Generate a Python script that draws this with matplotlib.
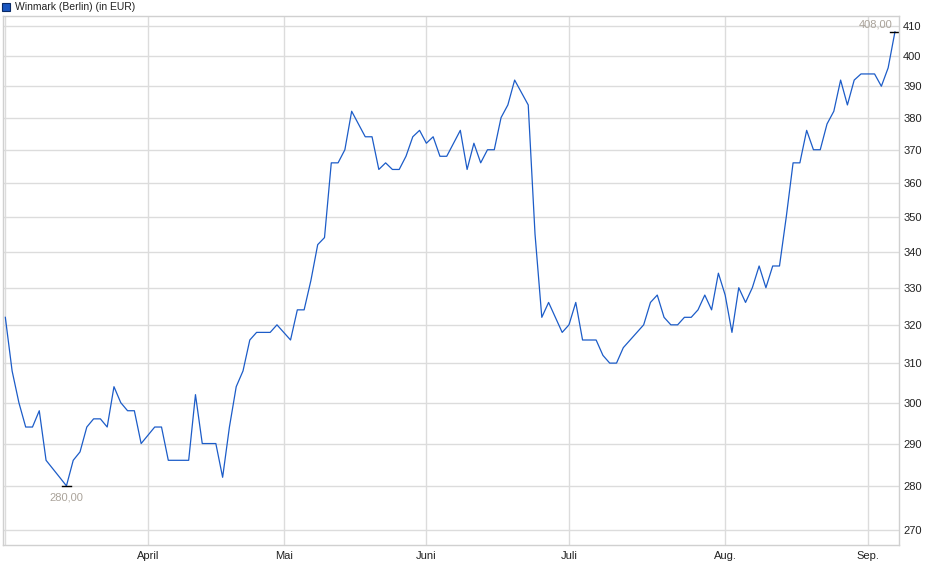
import matplotlib.pyplot as plt
from matplotlib.ticker import FixedLocator, NullLocator

plt.rcParams['font.family'] = ['Liberation Sans', 'DejaVu Sans']

# daily closing prices (trading days, early March to early September)
prices = [322, 308, 300, 294, 294, 298, 286, 284, 282, 280,
          286, 288, 294, 296, 296, 294, 304, 300, 298, 298,
          290, 292, 294, 294, 286, 286, 286, 286, 302, 290,
          290, 290, 282, 294, 304, 308, 316, 318, 318, 318,
          320, 318, 316, 324, 324, 332, 342, 344, 366, 366,
          370, 382, 378, 374, 374, 364, 366, 364, 364, 368,
          374, 376, 372, 374, 368, 368, 372, 376, 364, 372,
          366, 370, 370, 380, 384, 392, 388, 384, 345, 322,
          326, 322, 318, 320, 326, 316, 316, 316, 312, 310,
          310, 314, 316, 318, 320, 326, 328, 322, 320, 320,
          322, 322, 324, 328, 324, 334, 328, 318, 330, 326,
          330, 336, 330, 336, 336, 350, 366, 366, 376, 370,
          370, 378, 382, 392, 384, 392, 394, 394, 394, 390,
          396, 408]

# index of the first trading day of each month
month_pos = [0, 21, 41, 62, 83, 106, 127]
month_labels = ['', 'April', 'Mai', 'Juni', 'Juli', 'Aug.', 'Sep.']
y_ticks = [270, 280, 290, 300, 310, 320, 330, 340, 350, 360, 370, 380, 390, 400, 410]

days = list(range(len(prices)))

fig = plt.figure(figsize=(9.4, 5.79), dpi=100)
ax = fig.add_axes([0.0032, 0.0587, 0.9532, 0.9137])

ax.plot(days, prices, color='#1c5cc8', linewidth=0.9)

ax.set_yscale('log')
ax.set_ylim(266.6, 413.4)
ax.set_xlim(-0.34, 131.6)

ax.yaxis.set_major_locator(FixedLocator(y_ticks))
ax.yaxis.set_minor_locator(NullLocator())
ax.set_yticklabels([str(v) for v in y_ticks])
ax.yaxis.tick_right()
ax.set_xticks(month_pos)
ax.set_xticklabels(month_labels)

ax.grid(True, color='#dcdcdc', linewidth=1.0)
ax.set_axisbelow(True)
for s in ax.spines.values():
    s.set_color('#d0d0d0')
    s.set_linewidth(1.0)
ax.tick_params(axis='both', length=0, labelsize=8, colors='#222222', pad=4)
ax.tick_params(axis='y', pad=3)

# min / max markers
lo = prices.index(min(prices))
hi = prices.index(max(prices))
ax.plot([lo - 0.7, lo + 0.7], [min(prices)] * 2, color='black', linewidth=1.0)
ax.plot([hi - 0.7, hi + 0.7], [max(prices)] * 2, color='black', linewidth=1.0)
ax.annotate('%d,00' % min(prices), (lo, min(prices)), xytext=(0, -5),
            textcoords='offset points', ha='center', va='top',
            fontsize=8, color='#aaa39a')
ax.annotate('%d,00' % max(prices), (hi, max(prices)), xytext=(-1.5, 2),
            textcoords='offset points', ha='right', va='bottom',
            fontsize=8, color='#aaa39a')

# header
fig.patches.append(plt.Rectangle((2 / 940, 1 - 11 / 579), 8 / 940, 8 / 579,
                                 transform=fig.transFigure, facecolor='#1a56c0',
                                 edgecolor='#0a2a66', linewidth=0.8))
fig.text(15 / 940, 1 - 6.5 / 579, 'Winmark (Berlin) (in EUR)', fontsize=7.5,
         va='center', ha='left', color='#222222')

fig.savefig('out.png', dpi=100)
